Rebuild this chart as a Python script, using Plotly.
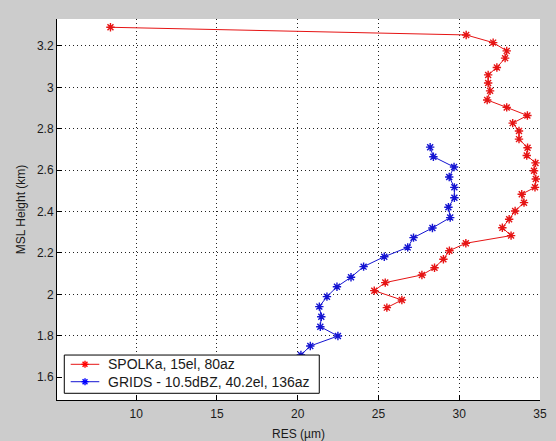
import plotly.graph_objects as go

# SPOLKa series (RES in µm, MSL height in km)
spol_res = [8.41, 30.43, 32.10, 32.94, 32.84, 32.33, 31.79, 31.79, 31.91, 31.73,
            32.94, 34.22, 33.31, 33.70, 33.70, 34.23, 34.18, 34.72, 34.63, 34.74,
            34.69, 33.87, 34.01, 33.46, 33.09, 32.67, 33.21, 30.41, 29.39, 29.02,
            28.47, 27.69, 25.42, 24.74, 26.45, 25.52]
spol_hgt = [3.290, 3.253, 3.216, 3.176, 3.141, 3.096, 3.060, 3.021, 2.983, 2.939,
            2.903, 2.864, 2.827, 2.789, 2.750, 2.708, 2.671, 2.635, 2.597, 2.557,
            2.517, 2.484, 2.443, 2.403, 2.363, 2.322, 2.284, 2.247, 2.211, 2.170,
            2.129, 2.094, 2.057, 2.018, 1.973, 1.936]

# GRIDS series
grids_res = [28.20, 28.40, 29.68, 29.38, 29.70, 29.70, 29.33, 29.44, 28.34, 27.17,
             26.81, 25.36, 24.08, 23.30, 22.43, 21.81, 21.34, 21.46, 21.40, 22.49,
             20.78, 20.20]
grids_hgt = [2.711, 2.665, 2.615, 2.567, 2.517, 2.467, 2.421, 2.371, 2.321, 2.274,
             2.227, 2.182, 2.134, 2.083, 2.037, 1.989, 1.941, 1.892, 1.844, 1.799,
             1.751, 1.707]

series_names = ["SPOLKa, 15el, 80az", "GRIDS - 10.5dBZ, 40.2el, 136az"]
series_colors = ["red", "blue"]
line_colors = ["rgb(230,20,20)", "rgb(20,20,210)"]

x_ticks = [10, 15, 20, 25, 30, 35]
y_ticks = [1.6, 1.8, 2.0, 2.2, 2.4, 2.6, 2.8, 3.0, 3.2]
y_tick_text = ["1.6", "1.8", "2", "2.2", "2.4", "2.6", "2.8", "3", "3.2"]

FONT = "Liberation Sans, Arial, sans-serif"

fig = go.Figure()
for xs, ys, name, mc, lc in zip([spol_res, grids_res], [spol_hgt, grids_hgt],
                                series_names, series_colors, line_colors):
    fig.add_trace(go.Scatter(
        x=xs, y=ys, mode="lines+markers", name=name, showlegend=False,
        line=dict(color=lc, width=1),
        marker=dict(symbol="asterisk-open", size=7, line=dict(color=mc, width=1.4)),
    ))

# ---- MATLAB-style compact legend box (paper coordinates) ----
box_x0, box_x1 = 0.0151, 0.543
box_y0, box_y1 = 0.0176, 0.118
row_y = [0.0937, 0.048]
samp_x0, samp_x1 = 0.0284, 0.0876
text_x = 0.1014

shapes = [dict(type="rect", xref="paper", yref="paper",
               x0=box_x0, x1=box_x1, y0=box_y0, y1=box_y1,
               fillcolor="white", line=dict(color="black", width=1), layer="above")]
annotations = []
for ry, mc, lc, name in zip(row_y, series_colors, line_colors, series_names):
    shapes.append(dict(type="line", xref="paper", yref="paper",
                       x0=samp_x0, x1=samp_x1, y0=ry, y1=ry,
                       line=dict(color=lc, width=1), layer="above"))
    cx = (samp_x0 + samp_x1) / 2
    r = 3.5
    for dx0, dy0, dx1, dy1 in [(-r, 0, r, 0), (0, -r, 0, r), (-r * 0.7, -r * 0.7, r * 0.7, r * 0.7),
                               (-r * 0.7, r * 0.7, r * 0.7, -r * 0.7)]:
        shapes.append(dict(type="line", xref="paper", yref="paper",
                           xsizemode="pixel", ysizemode="pixel", xanchor=cx, yanchor=ry,
                           x0=dx0, x1=dx1, y0=dy0, y1=dy1,
                           line=dict(color=mc, width=1.4), layer="above"))
    annotations.append(dict(xref="paper", yref="paper", x=text_x, y=ry,
                            xanchor="left", yanchor="middle", showarrow=False,
                            text=name, font=dict(family=FONT, size=14, color="#1a1a1a")))

fig.update_layout(
    width=556, height=441,
    margin=dict(l=57, r=16, t=19, b=41),
    paper_bgcolor="#cccccc",
    plot_bgcolor="white",
    font=dict(family=FONT, size=12, color="#1a1a1a"),
    showlegend=False,
    shapes=shapes,
    annotations=annotations,
    xaxis=dict(
        range=[5.1, 35], tickvals=x_ticks, automargin=False,
        showline=True, linecolor="black", linewidth=1, mirror=False,
        ticks="inside", ticklen=5, tickcolor="black", ticklabelstandoff=3,
        showgrid=True, gridcolor="#222222", gridwidth=1, griddash="1px,3px",
        zeroline=False,
        title=dict(text="RES (µm)", standoff=9, font=dict(size=12)),
    ),
    yaxis=dict(
        range=[1.49, 3.33], tickvals=y_ticks, ticktext=y_tick_text, automargin=False,
        showline=True, linecolor="black", linewidth=1, mirror=False,
        ticks="inside", ticklen=5, tickcolor="black",
        showgrid=True, gridcolor="#222222", gridwidth=1, griddash="1px,3px",
        zeroline=False,
        title=dict(text="MSL Height (km)", standoff=8, font=dict(size=12)),
    ),
)

fig.write_html("out.html")
